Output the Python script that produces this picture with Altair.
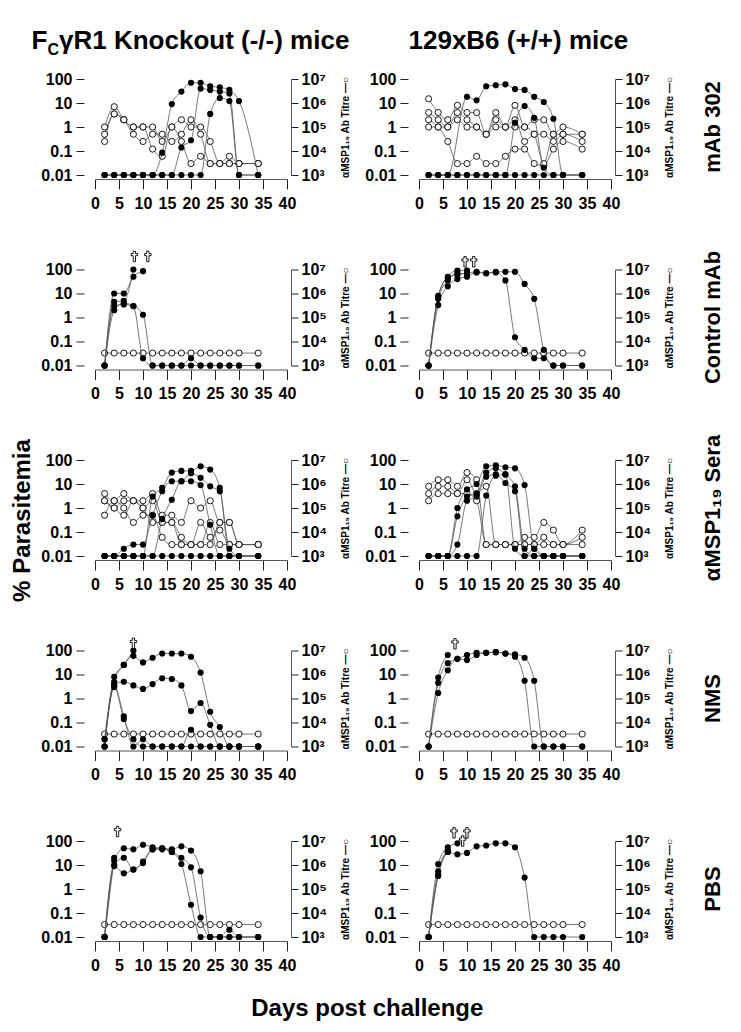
import altair as alt
import pandas as pd

DAYS = [2, 4, 6, 8, 10, 12, 14, 16, 18, 20, 22, 24, 26, 28, 30, 34]
X_TICKS = [0, 5, 10, 15, 20, 25, 30, 35, 40]
PARA_TICKS = [0.01, 0.1, 1, 10, 100]
TITRE_TICKS = [1e3, 1e4, 1e5, 1e6, 1e7]

ROW_LABELS = ["mAb 302", "Control mAb", "αMSP1₁₉ Sera", "NMS", "PBS"]
HEADER_KO = ["F", "C", "γR1 Knockout (-/-) mice"]
HEADER_WT = "129xB6 (+/+) mice"
Y_TITLE = "% Parasitemia"
X_TITLE = "Days post challenge"
TITRE_TITLE = "αMSP1₁₉ Ab Titre —○"

N = None
# ---------------- mAb 302 ----------------
KO_MAB_PARA = [
    [0.01, 0.01, 0.01, 0.01, 0.01, 0.01, 0.085, 9, 30, 70, 70, 50, 45, 35, 12, 0.01],
    [0.01, 0.01, 0.01, 0.01, 0.01, 0.01, 0.01, 0.01, 0.14, 0.28, 40, 35, 30, 25, 0.01, 0.01],
    [0.01, 0.01, 0.01, 0.01, 0.01, 0.01, 0.01, 0.01, 0.01, 0.01, 0.01, 3.5, 16, 12, 0.01, 0.01],
]
KO_MAB_TITRE = [
    [1e5, 7e5, 2e5, 1e5, 1e5, 1e5, 2.5e4, 1e5, 2e5, 1e5, 1e5, 2.5e4, 3e3, 3e3, 3e3, 3e3],
    [5e4, 3.5e5, 2e5, 5e4, 2.5e4, 5e4, 5e4, 2.5e4, 5e4, 2e5, 5e4, 3e3, 3e3, 6e3, 3e3, 3e3],
    [2.5e4, 3.5e5, 2e5, 1e5, 1e5, 1.2e4, 6e3, 1e5, 2.5e4, 3e3, 6e3, 3e3, 3e3, 3e3, 3e3, 3e3],
]
WT_MAB_PARA = [
    [0.01, 0.01, 0.01, N, 18, 13, 50, 55, 60, 38, 35, 18, 11, 2.2, 0.01, 0.01],
    [0.01, 0.01, 0.01, 0.01, 0.01, 0.01, 0.01, 0.01, 0.01, 1.5, 7.5, 2.4, 0.02, 0.01, 0.01, 0.01],
    [0.01, 0.01, 0.01, 0.01, 0.01, 0.01, 0.01, 0.01, 0.01, 0.01, 0.01, 0.01, 0.01, 0.01, 0.01, 0.01],
]
WT_MAB_TITRE = [
    [1.5e6, 4e5, 2e5, 8e5, 4e5, 4e5, 5e4, 4e5, 1e5, 8e5, 1e5, 2e5, 2e5, 5e4, 1e5, 5e4],
    [4e5, 2e5, 1e5, 4e5, 2e5, 1e5, 5e4, 2e5, 1e5, 2e5, 2.5e4, 5e4, 5e4, 2.5e4, 5e4, 2.5e4],
    [2e5, 1e5, 2.5e4, 3e3, 3e3, 6e3, 3e3, 3e3, 6e3, 1.2e4, 1.2e4, 3e3, 2.5e3, 1.2e4, 2.5e4, 1.2e4],
    [1e5, 1e5, 1e5, 2e5, 1e5, 1e5, 5e4, 1e5, 1e5, 1e5, 1e5, 5e4, 3e3, 5e4, 5e4, 5e4],
]
# ---------------- Control mAb ----------------
KO_CTL_PARA = [
    [0.01, 10, 10, 50, 85, N, N, N, N, N, N, N, N, N, N, N],
    [0.01, 4.5, 5, 100, N, N, N, N, N, N, N, N, N, N, N, N],
    [0.01, 3, 3.5, 3, 1.3, 0.01, 0.01, 0.01, 0.01, 0.01, 0.01, 0.01, 0.01, 0.01, 0.01, 0.01],
    [0.01, 2, 4, 3, 0.02, 0.01, 0.01, 0.01, 0.01, 0.02, 0.01, 0.01, 0.01, 0.01, 0.01, 0.01],
]
KO_CTL_DAG_X = [8.2, 11.0]
KO_CTL_DAG_Y = [350, 350]
WT_CTL_PARA = [
    [0.01, 8, 50, 90, 90, N, N, N, N, N, N, N, N, N, N, N],
    [0.01, 6, 35, 70, 65, N, N, N, N, N, N, N, N, N, N, N],
    [0.01, 3.3, 20, 40, 50, 75, 70, 75, 35, 0.15, 0.045, 0.02, 0.02, 0.01, 0.01, 0.01],
    [0.01, 7, 45, 60, 70, 80, 70, 80, 80, 80, 25, 6, 0.045, 0.01, 0.01, 0.01],
]
WT_CTL_DAG_X = [9.6, 11.4]
WT_CTL_DAG_Y = [210, 210]
# ---------------- anti-MSP1-19 sera ----------------
KO_SER_PARA = [
    [0.01, 0.01, 0.01, 0.01, 0.01, 3, 7, 30, 35, 35, 55, 40, 7, 0.02, 0.01, 0.01],
    [0.01, 0.01, 0.02, 0.03, 0.03, 0.5, 5, 13, 13, 28, 18, 8, 5, 0.01, 0.01, 0.01],
    [0.01, 0.01, 0.01, 0.01, 0.01, 0.01, 0.35, 2.2, 13, 13, 9, 0.2, 0.01, 0.01, 0.01, 0.01],
    [0.01, 0.01, 0.01, 0.01, 0.01, 0.01, 0.01, 0.01, 0.01, 0.01, 0.01, 0.01, 0.01, 0.01, 0.01, 0.01],
]
KO_SER_TITRE = [
    [4e5, 2e5, 4e5, 2e5, 2e5, 4e5, 5e4, 5e4, 2.5e4, 2e5, 1e5, 2e5, 2.5e4, 2.5e4, 3e3, 3e3],
    [2e5, 1e5, 2e5, 2e5, 1e5, 2e5, 2.5e4, 2.5e4, 6e3, 3e3, 2.5e4, 6e3, 1.2e4, 3e3, 3e3, 3e3],
    [5e4, 2e5, 1e5, 2.5e4, 5e4, 5e4, 6e3, 3e3, 3e3, 3e3, 3e3, 2.5e4, 3e3, 3e3, 3e3, 3e3],
    [2e5, 1e5, 5e4, 2e5, 1e5, 2.5e4, 2.5e4, 2.5e4, 3e3, 3e3, 3e3, 3e3, 2.5e4, 2.5e4, 3e3, 3e3],
]
WT_SER_PARA = [
    [0.01, 0.01, 0.01, 1, 6, 10, 55, 60, 50, 45, 9, 0.02, 0.01, 0.01, 0.01, 0.01],
    [0.01, 0.01, 0.01, 0.45, 3, 4, 30, 45, 25, 8, 0.02, 0.01, 0.01, 0.01, 0.01, 0.01],
    [0.01, 0.01, 0.01, 0.03, 2, 3, 20, 25, 11, 5, 0.01, 0.02, 0.01, 0.01, 0.01, 0.01],
    [0.01, 0.01, 0.01, 0.01, 0.01, 0.01, 3.3, 22, 25, 0.02, 0.01, 0.01, 0.01, 0.01, 0.01, 0.01],
]
WT_SER_TITRE = [
    [8e5, 1.5e6, 1.5e6, 8e5, 3e6, 1.5e6, 3e3, 3e3, 3e3, 3e3, 6e3, 6e3, 2.5e4, 1.2e4, 3e3, 1.2e4],
    [4e5, 8e5, 8e5, 4e5, 1.5e6, 4e5, 8e5, 3e3, 3e3, 3e3, 3e3, 3e3, 6e3, 3e3, 3e3, 6e3],
    [2e5, 4e5, 4e5, 4e5, 4e5, 2e5, 3e3, 3e3, 3e3, 3e3, 3e3, 3e3, 3e3, 3e3, 3e3, 3e3],
]
# ---------------- NMS ----------------
KO_NMS_PARA = [
    [0.01, 8, 25, 100, N, N, N, N, N, N, N, N, N, N, N, N],
    [0.02, 5, 25, 60, 32, 50, 75, 75, 75, 55, 12, 0.28, 0.065, 0.01, 0.01, 0.01],
    [0.01, 4, 5, 3.5, 2.5, 4, 7, 6.5, 3.5, 0.3, 0.65, 0.08, 0.01, 0.01, 0.01, 0.01],
    [0.02, 3.5, 0.18, 0.01, 0.02, 0.01, 0.01, 0.01, 0.01, 0.05, 0.01, 0.01, 0.01, 0.01, 0.01, 0.01],
    [0.01, 3, 0.14, 0.02, 0.01, 0.01, 0.01, 0.01, 0.01, 0.01, 0.01, 0.01, 0.01, 0.01, 0.01, 0.01],
]
KO_NMS_DAG_X = [8.0]
KO_NMS_DAG_Y = [200]
WT_NMS_PARA = [
    [0.01, 7.5, 65, N, N, N, N, N, N, N, N, N, N, N, N, N],
    [0.01, 4.5, 30, 45, 65, 80, 80, 85, 75, 55, 5.5, 0.01, 0.01, 0.01, 0.01, 0.01],
    [0.01, 1.7, 15, 45, 40, 65, 80, 85, 75, 70, 50, 5.5, 0.01, 0.01, 0.01, 0.01],
]
WT_NMS_DAG_X = [7.5]
WT_NMS_DAG_Y = [190]
# ---------------- PBS ----------------
KO_PBS_PARA = [
    [0.01, 20, N, N, N, N, N, N, N, N, N, N, N, N, N, N],
    [0.01, 15, 50, 45, 70, 55, 50, 45, 60, 40, 5.5, 0.01, 0.01, 0.01, 0.01, 0.01],
    [0.01, 10, 20, 6.5, 14, 45, 45, 35, 20, 8, 0.065, 0.01, 0.01, 0.02, 0.01, 0.01],
    [0.01, 9, 4.5, 6.5, 12, 45, 50, 35, 11, 0.22, 0.01, 0.01, 0.01, 0.01, 0.01, 0.01],
]
KO_PBS_DAG_X = [4.7]
KO_PBS_DAG_Y = [250]
WT_PBS_PARA = [
    [0.01, 11, 55, 80, N, N, N, N, N, N, N, N, N, N, N, N],
    [0.01, 5.5, 40, N, N, N, N, N, N, N, N, N, N, N, N, N],
    [0.01, 4, 35, N, N, N, N, N, N, N, N, N, N, N, N, N],
    [0.01, 3.5, 35, 28, 32, 60, 65, 80, 80, 55, 3, 0.01, 0.01, 0.01, 0.01, 0.01],
]
WT_PBS_DAG_X = [7.3, 9.1, 10.0]
WT_PBS_DAG_Y = [220, 100, 220]

# titre of non-immune groups (below detection)
NEG_TITRE = [[3.3e3, 3.3e3, 3.3e3, 3.3e3, 3.3e3, 3.3e3, 3.3e3, 3.3e3,
              3.3e3, 3.3e3, 3.3e3, 3.3e3, 3.3e3, 3.3e3, 3.3e3, 3.3e3]]

FONT = "Liberation Sans"
W, H = 192, 96
CROSS = ("M-0.22,-1 L0.22,-1 L0.22,-0.55 L0.62,-0.55 L0.62,-0.15 L0.22,-0.15 L0.22,1 "
         "L-0.22,1 L-0.22,-0.15 L-0.62,-0.15 L-0.62,-0.55 L-0.22,-0.55 Z")

X_AXIS = alt.Axis(values=X_TICKS, offset=4, tickSize=10, tickColor="#222", domainColor="#555",
                  labelFontSize=16, labelFontWeight="bold", labelColor="black", labelPadding=6,
                  labelFlush=False, labelOverlap=False, grid=False, title=None)

SUP = ("'10' + (datum.value < 5000 ? '³' : datum.value < 50000 ? '⁴' : "
       "datum.value < 500000 ? '⁵' : datum.value < 5000000 ? '⁶' : '⁷')")

RIGHT_AXIS = alt.Axis(orient="right", values=TITRE_TICKS, labelExpr=SUP, domain=True, domainColor="#555",
                      offset=4, tickSize=7, tickColor="#222", labelFontSize=16, labelFontWeight="bold",
                      labelColor="black", labelPadding=3, grid=False, title=TITRE_TITLE,
                      titleFontSize=10, titleFontWeight="bold", titleColor="black", titleAngle=270,
                      titleBaseline="top", titlePadding=14)


def left_axis(title):
    kw = dict(orient="left", values=PARA_TICKS, format="~g", domain=False, offset=11, tickSize=8,
              tickColor="#222", labelFontSize=16, labelFontWeight="bold", labelColor="black",
              labelPadding=4, grid=False)
    if title:
        kw.update(title=title, titleFontSize=24, titleFontWeight="bold", titleColor="black",
                  titlePadding=6, titleY=60)
    else:
        kw.update(title=None)
    return alt.Axis(**kw)


def long(series_list):
    rows = []
    for i, s in enumerate(series_list):
        for d, v in zip(DAYS, s):
            if v is not None:
                rows.append({"day": d, "v": v, "m": i})
    return pd.DataFrame(rows)


def panel(para, titre, dag_x=None, dag_y=None, ytitle=None, row_label=None, header=None):
    xenc = alt.X("day:Q", scale=alt.Scale(domain=[0, 40], nice=False, zero=False), axis=X_AXIS)
    yl = alt.Y("v:Q", scale=alt.Scale(type="log", domain=[0.01, 100]), axis=left_axis(ytitle))
    yr = alt.Y("v:Q", scale=alt.Scale(type="log", domain=[1e3, 1e7]), axis=RIGHT_AXIS)

    dp = long(para)
    dt = long(titre)

    plines = alt.Chart(dp).mark_line(color="#555", strokeWidth=0.8, interpolate="monotone").encode(
        x=xenc, y=yl, detail="m:N")
    ppts = alt.Chart(dp).mark_circle(color="black", size=38, opacity=1).encode(x=xenc, y=yl)
    left_layers = [plines, ppts]
    if dag_x:
        dd = pd.DataFrame({"day": dag_x, "v": dag_y})
        left_layers.append(alt.Chart(dd).mark_point(shape=CROSS, filled=True, fill="white", stroke="black",
                                                    strokeWidth=0.9, size=110, opacity=1).encode(x=xenc, y=yl))
    if header == "ko":
        specs = [(HEADER_KO[0], -63.5, -30, 26), (HEADER_KO[1], -47.5, -24, 16), (HEADER_KO[2], -36, -30, 26)]
        for t, hx, hy, fs in specs:
            left_layers.append(
                alt.Chart(pd.DataFrame({"t": [t]})).mark_text(
                    align="left", baseline="alphabetic", fontSize=fs, fontWeight="bold", font=FONT,
                    color="black").encode(text="t:N", x=alt.value(hx), y=alt.value(hy)))
    elif header == "wt":
        left_layers.append(
            alt.Chart(pd.DataFrame({"t": [HEADER_WT]})).mark_text(
                align="left", baseline="alphabetic", fontSize=26, fontWeight="bold", font=FONT,
                color="black").encode(text="t:N", x=alt.value(-10.5), y=alt.value(-30)))
    left = alt.layer(*left_layers)

    tlines = alt.Chart(dt).mark_line(color="#555", strokeWidth=0.8, interpolate="monotone").encode(
        x=xenc, y=yr, detail="m:N")
    tpts = alt.Chart(dt).mark_point(shape="circle", filled=True, fill="white", stroke="black",
                                    strokeWidth=0.9, size=38, opacity=1).encode(x=xenc, y=yr)
    right = alt.layer(tlines, tpts)

    ch = alt.layer(right, left).resolve_scale(y="independent").properties(width=W, height=H)
    if row_label:
        ch = ch.properties(title=alt.TitleParams(text=row_label, orient="right", angle=270, anchor="middle",
                                                 frame="group", fontSize=22, fontWeight="bold", font=FONT,
                                                 color="black", offset=6))
    return ch


panels = [
    panel(KO_MAB_PARA, KO_MAB_TITRE, header="ko"),
    panel(WT_MAB_PARA, WT_MAB_TITRE, row_label=ROW_LABELS[0], header="wt"),
    panel(KO_CTL_PARA, NEG_TITRE, KO_CTL_DAG_X, KO_CTL_DAG_Y),
    panel(WT_CTL_PARA, NEG_TITRE, WT_CTL_DAG_X, WT_CTL_DAG_Y, row_label=ROW_LABELS[1]),
    panel(KO_SER_PARA, KO_SER_TITRE, ytitle=Y_TITLE),
    panel(WT_SER_PARA, WT_SER_TITRE, row_label=ROW_LABELS[2]),
    panel(KO_NMS_PARA, NEG_TITRE, KO_NMS_DAG_X, KO_NMS_DAG_Y),
    panel(WT_NMS_PARA, NEG_TITRE, WT_NMS_DAG_X, WT_NMS_DAG_Y, row_label=ROW_LABELS[3]),
    panel(KO_PBS_PARA, NEG_TITRE, KO_PBS_DAG_X, KO_PBS_DAG_Y),
    panel(WT_PBS_PARA, NEG_TITRE, WT_PBS_DAG_X, WT_PBS_DAG_Y, row_label=ROW_LABELS[4]),
]

chart = alt.concat(*panels, columns=2, spacing={"row": 94.5, "column": 132}, bounds="flush").properties(
    title=alt.TitleParams(text=X_TITLE, orient="bottom", anchor="middle", fontSize=24, fontWeight="bold",
                          font=FONT, color="black", offset=24),
    padding={"left": 2, "top": 20, "right": 5, "bottom": 5},
).configure(font=FONT).configure_view(strokeWidth=0)

chart.save("out.html", embed_options={"renderer": "svg", "actions": False})
